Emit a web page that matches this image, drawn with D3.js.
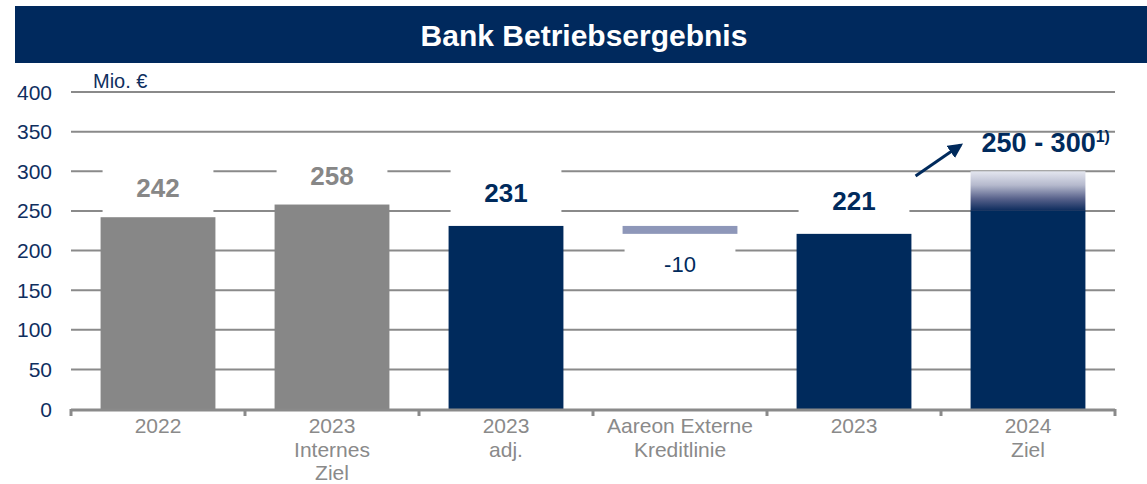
<!DOCTYPE html>
<html>
<head>
<meta charset="utf-8">
<script src="https://cdn.jsdelivr.net/npm/d3@7"></script>
<style>
	body { margin: 0; background: #fff; }
	text { font-family: "Liberation Sans", Arial, sans-serif; }
</style>
</head>
<body>
<svg id="chart"></svg>
<script>
// chart data
var categories = [['2022'], ['2023', 'Internes', 'Ziel'], ['2023', 'adj.'], ['Aareon Externe', 'Kreditlinie'], ['2023'], ['2024', 'Ziel']];
var barBase = [0, 0, 0, 221, 0, 0];
var barTop = [242, 258, 231, 231, 221, 250];
var barKind = ['gray', 'gray', 'navy', 'delta', 'navy', 'navy'];
var valueLabels = ['242', '258', '231', '-10', '221', '250 - 300'];
var targetRange = [250, 300];
var yTicks = [0, 50, 100, 150, 200, 250, 300, 350, 400];

var svgWidth = 1147;
var svgHeight = 484;

var navy = '#002a5c';
var gray = '#878787';
var colors = { gray: gray, navy: navy, delta: '#8e97b9' };

var svg = d3.select('#chart')
	.attr('width', svgWidth)
	.attr('height', svgHeight);

//title bar
svg.append('rect')
	.attr('x', 15).attr('y', 6)
	.attr('width', svgWidth - 15).attr('height', 57)
	.attr('fill', '#00295d');
svg.append('text')
	.attr('x', 584).attr('y', 46)
	.attr('text-anchor', 'middle')
	.attr('fill', '#fff')
	.attr('font-size', 30)
	.attr('font-weight', 'bold')
	.text('Bank Betriebsergebnis');

var y = d3.scaleLinear().domain([0, 400]).range([409, 92]);
var xCat = d3.scaleBand().domain(d3.range(categories.length)).range([71, 1115]);
var x = d3.scaleBand().domain(d3.range(categories.length)).range([71, 1115])
	.paddingInner(0.34).paddingOuter(0.17);

//gridlines
svg.append('g').selectAll('line')
	.data(yTicks.filter(function(d) { return d > 0; }))
	.enter().append('line')
	.attr('x1', 71).attr('x2', 1115)
	.attr('y1', function(d) { return y(d); })
	.attr('y2', function(d) { return y(d); })
	.attr('stroke', '#8a8a8a')
	.attr('stroke-width', 2);

//y tick labels
svg.append('g').selectAll('text')
	.data(yTicks)
	.enter().append('text')
	.attr('x', 52)
	.attr('y', function(d) { return y(d); })
	.attr('dy', '0.36em')
	.attr('text-anchor', 'end')
	.attr('fill', '#0f2f5f')
	.attr('font-size', 21)
	.text(function(d) { return d; });

svg.append('text')
	.attr('x', 93).attr('y', 88)
	.attr('fill', '#0f2f5f')
	.attr('font-size', 20)
	.text('Mio. €');

//label position: above bar, or below for the negative delta
function labelY(d, i)
{
	if(barKind[i] == 'delta') return y(barBase[i]) + 38;
	if(i == 5) return y(targetRange[1]) - 19;
	if(barKind[i] == 'navy') return y(barTop[i]) - 24;
	return y(barTop[i]) - 20;
}

//white boxes behind labels (hide gridlines)
svg.append('g').selectAll('rect')
	.data(valueLabels.slice(0, 5))
	.enter().append('rect')
	.attr('x', function(d, i) { return x(i) + 2; })
	.attr('width', x.bandwidth() - 4)
	.attr('y', function(d, i) { return labelY(d, i) - 33; })
	.attr('height', 48)
	.attr('fill', '#fff');

//gradient for the target range
var defs = svg.append('defs');
var grad = defs.append('linearGradient')
	.attr('id', 'zielGrad')
	.attr('x1', 0).attr('y1', 0).attr('x2', 0).attr('y2', 1);
grad.append('stop').attr('offset', '0').attr('stop-color', '#e4e6ef');
grad.append('stop').attr('offset', '0.35').attr('stop-color', '#b5b9cd');
grad.append('stop').attr('offset', '0.7').attr('stop-color', '#56608a');
grad.append('stop').attr('offset', '1').attr('stop-color', '#0b2b5c');

defs.append('marker')
	.attr('id', 'arrowHead')
	.attr('viewBox', '0 0 10 10')
	.attr('refX', 8).attr('refY', 5)
	.attr('markerWidth', 5).attr('markerHeight', 5)
	.attr('markerUnits', 'strokeWidth')
	.attr('orient', 'auto')
	.append('path')
	.attr('d', 'M0,0 L10,5 L0,10 Z')
	.attr('fill', navy);

//bars
svg.append('g').selectAll('rect')
	.data(barTop)
	.enter().append('rect')
	.attr('x', function(d, i) { return x(i); })
	.attr('width', x.bandwidth())
	.attr('y', function(d) { return y(d); })
	.attr('height', function(d, i) { return y(barBase[i]) - y(d); })
	.attr('fill', function(d, i) { return colors[barKind[i]]; });

svg.append('rect')
	.attr('x', x(5))
	.attr('width', x.bandwidth())
	.attr('y', y(targetRange[1]))
	.attr('height', y(targetRange[0]) - y(targetRange[1]))
	.attr('fill', 'url(#zielGrad)');

//value labels
svg.append('g').selectAll('text')
	.data(valueLabels.slice(0, 5))
	.enter().append('text')
	.attr('x', function(d, i) { return x(i) + x.bandwidth() / 2; })
	.attr('y', labelY)
	.attr('text-anchor', 'middle')
	.attr('font-size', function(d, i) { return barKind[i] == 'delta' ? 22 : 26; })
	.attr('font-weight', function(d, i) { return barKind[i] == 'delta' ? 'normal' : 'bold'; })
	.attr('fill', function(d, i) { return barKind[i] == 'gray' ? gray : navy; })
	.text(function(d) { return d; });

//target label with footnote
var target = svg.append('text')
	.attr('x', x(5) + 11)
	.attr('y', labelY(null, 5))
	.attr('font-size', 27)
	.attr('font-weight', 'bold')
	.attr('fill', navy);
target.append('tspan').text(valueLabels[5]);
target.append('tspan')
	.attr('dy', -10)
	.attr('font-size', 16)
	.text('1)');

//arrow
svg.append('line')
	.attr('x1', x(5) - 55).attr('y1', y(294))
	.attr('x2', x(5) - 10).attr('y2', y(333))
	.attr('stroke', navy)
	.attr('stroke-width', 3)
	.attr('marker-end', 'url(#arrowHead)');

//x axis
svg.append('line')
	.attr('x1', 71).attr('x2', 1115)
	.attr('y1', y(0) + 1).attr('y2', y(0) + 1)
	.attr('stroke', '#8a8a8a')
	.attr('stroke-width', 3);

svg.append('g').selectAll('line')
	.data(d3.range(categories.length + 1))
	.enter().append('line')
	.attr('x1', function(d) { return 71 + d * xCat.step(); })
	.attr('x2', function(d) { return 71 + d * xCat.step(); })
	.attr('y1', y(0)).attr('y2', y(0) + 7)
	.attr('stroke', '#8a8a8a')
	.attr('stroke-width', 3);

var catLabels = svg.append('g').selectAll('text')
	.data(categories)
	.enter().append('text')
	.attr('x', function(d, i) { return xCat(i) + xCat.bandwidth() / 2; })
	.attr('y', 433)
	.attr('text-anchor', 'middle')
	.attr('fill', '#8a8a8a')
	.attr('font-size', 21);

catLabels.selectAll('tspan')
	.data(function(d) { return d; })
	.enter().append('tspan')
	.attr('x', function() { return d3.select(this.parentNode).attr('x'); })
	.attr('dy', function(d, i) { return i == 0 ? 0 : 23.5; })
	.text(function(d) { return d; });
</script>
</body>
</html>
